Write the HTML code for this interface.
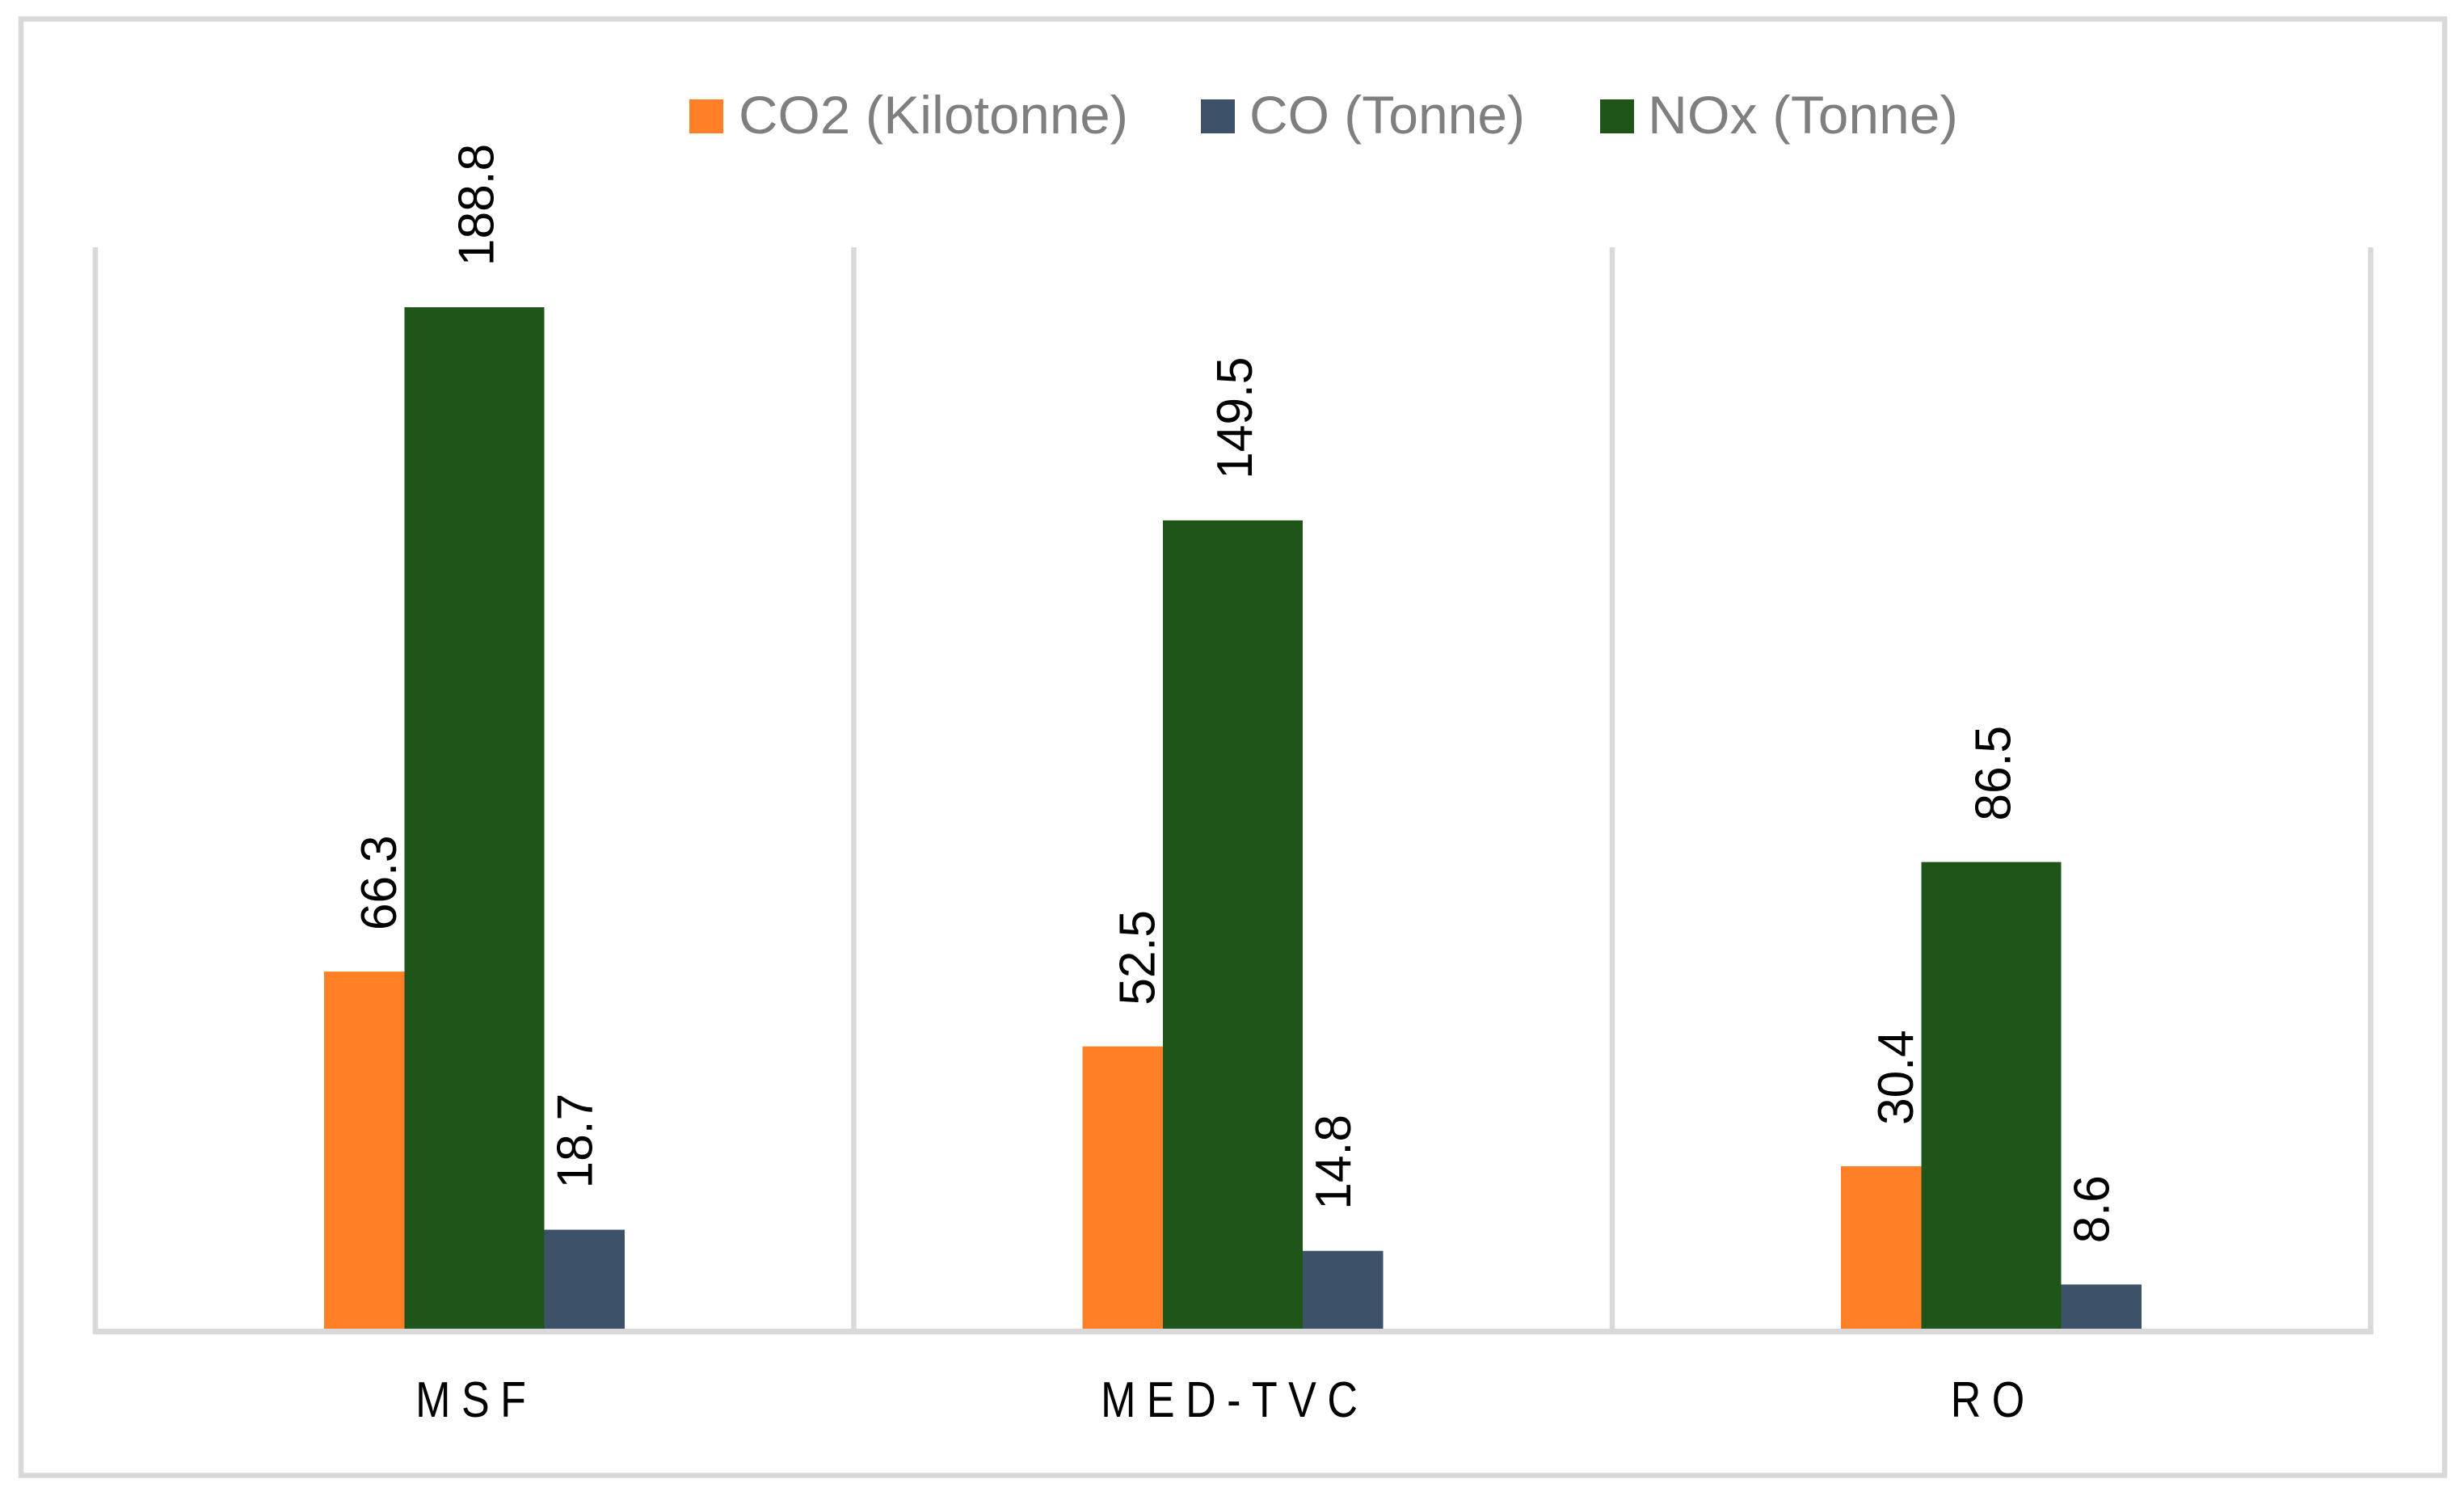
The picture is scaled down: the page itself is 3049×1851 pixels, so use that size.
<!DOCTYPE html>
<html lang="en">
<head>
<meta charset="utf-8">
<title>Emissions by desalination technology</title>
<style>
  html, body { margin: 0; padding: 0; background: #ffffff; }
  svg { display: block; }
  text { font-family: "Liberation Sans", sans-serif; }
</style>
</head>
<body>
<svg id="chart" xmlns="http://www.w3.org/2000/svg" width="3049" height="1851" viewBox="0 0 3049 1851">
  <rect x="0" y="0" width="3049" height="1851" fill="#ffffff"/>
  <rect x="26" y="23.5" width="2999" height="1802" fill="none" stroke="#d9d9d9" stroke-width="6.5"/>
  <g id="plot"></g>
  <g>
    <g>
      <rect x="853" y="123" width="42" height="42" fill="#ff7f27"/>
      <text x="914" y="165" font-size="66" fill="#7f7f7f" textLength="482" lengthAdjust="spacingAndGlyphs">CO2 (Kilotonne)</text>
    </g>
    <g>
      <rect x="1486" y="123" width="42" height="42" fill="#3d5269"/>
      <text x="1546" y="165" font-size="66" fill="#7f7f7f" textLength="341" lengthAdjust="spacingAndGlyphs">CO (Tonne)</text>
    </g>
    <g>
      <rect x="1980" y="123" width="42" height="42" fill="#1f5519"/>
      <text x="2039" y="165" font-size="66" fill="#7f7f7f" textLength="384" lengthAdjust="spacingAndGlyphs">NOx (Tonne)</text>
    </g>
  </g>
</svg>
<script>
const categories = ['MSF', 'MED-TVC', 'RO'];
const co2Values = [66.3, 52.5, 30.4];
const coValues = [18.7, 14.8, 8.6];
const noxValues = [188.8, 149.5, 86.5];

const NS = 'http://www.w3.org/2000/svg';
const plot = document.getElementById('plot');

const PLOT_LEFT = 118;
const BAND = 938.5;
const Y_ZERO = 1647;
const PX_PER_UNIT = 6.71;
const GRID_TOP = 306;

function bandX(i) { return PLOT_LEFT + BAND * i; }
function valueY(v) { return Y_ZERO - v * PX_PER_UNIT; }

function make(tag, attrs) {
  const el = document.createElementNS(NS, tag);
  for (const k in attrs) el.setAttribute(k, attrs[k]);
  return el;
}

// Vertical category separators
for (let i = 0; i <= categories.length; i++) {
  const line = make('line', {
    x1: bandX(i), x2: bandX(i), y1: GRID_TOP, y2: 1650,
    stroke: '#d9d9d9', 'stroke-width': 6.5
  });
  
  
  plot.appendChild(line);
}

function drawSeries(name, values, color, offset, width, labelBaseline) {
  values.forEach(function (v, i) {
    const x = bandX(i) + offset;
    const top = valueY(v);
    const bar = make('rect', {
      x: x, y: top, width: width, height: Y_ZERO - top, fill: color
    });
    
    
    plot.appendChild(bar);

    const label = make('text', {
      transform: 'translate(' + (x + labelBaseline) + ',' + (top - 51) + ') rotate(-90) scale(0.975,1)',
      'font-size': 62,
      fill: '#000000'
    });
    label.textContent = v.toFixed(1);
    
    
    plot.appendChild(label);
  });
}

drawSeries('co2', co2Values, '#ff7f27', 283, 99.5, 89);
drawSeries('nox', noxValues, '#1f5519', 382.5, 173, 110);
drawSeries('co', coValues, '#3d5269', 555.5, 99.5, 59);

// Category axis line, on top of the bar feet
const axis = make('rect', {
  x: PLOT_LEFT - 3, y: 1644, width: BAND * categories.length + 6.5, height: 7, fill: '#d9d9d9'
});


plot.appendChild(axis);

categories.forEach(function (c, i) {
  const cx = bandX(i) + BAND / 2 + 2;
  const t = make('text', {
    transform: 'translate(' + cx + ',1753) scale(0.84,1)',
    'font-size': 62,
    'text-anchor': 'middle',
    'letter-spacing': 16,
    fill: '#000000'
  });
  t.textContent = c;
  
  
  plot.appendChild(t);
});
</script>
</body>
</html>
